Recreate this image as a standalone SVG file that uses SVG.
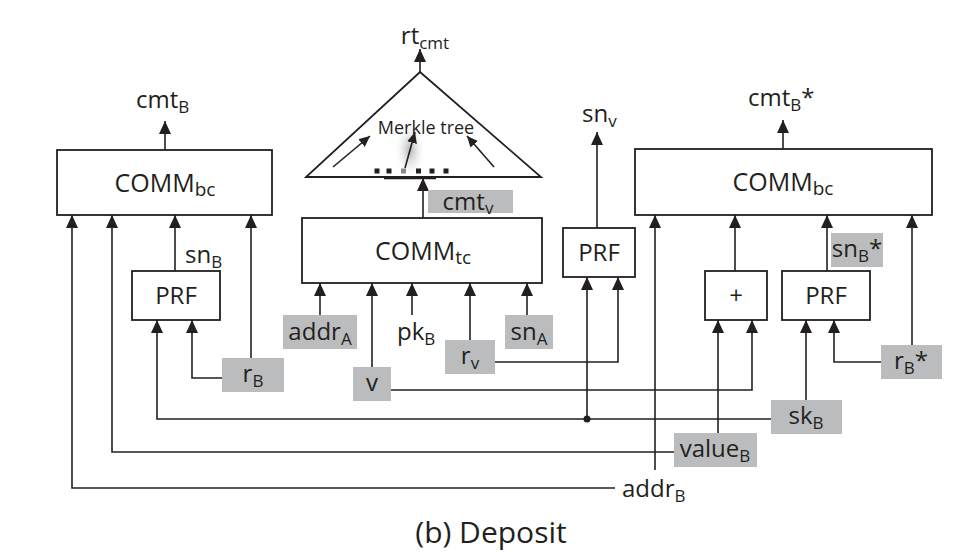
<svg xmlns="http://www.w3.org/2000/svg" width="980" height="559" viewBox="0 0 980 559">
<defs>
<marker id="ah" viewBox="0 0 13 12" refX="13" refY="6" markerWidth="13" markerHeight="12" orient="auto" markerUnits="userSpaceOnUse"><path d="M0,0 L13,6 L0,12 z" fill="#231f20"/></marker>
<marker id="ahs" viewBox="0 0 11 10" refX="11" refY="5" markerWidth="11" markerHeight="10" orient="auto" markerUnits="userSpaceOnUse"><path d="M0,0 L11,5 L0,10 z" fill="#231f20"/></marker>
<radialGradient id="glow" cx="0.5" cy="0.5" r="0.5"><stop offset="0" stop-color="#9a9a9a" stop-opacity="0.75"/><stop offset="1" stop-color="#ffffff" stop-opacity="0"/></radialGradient>
</defs>
<style>
.box{fill:#fff;stroke:#231f20;stroke-width:1.8}
.gray{fill:#bbbcbe;stroke:none}
.ln{fill:none;stroke:#231f20;stroke-width:1.6}
.arr{fill:none;stroke:#231f20;stroke-width:1.6;marker-end:url(#ah)}
.arrs{fill:none;stroke:#231f20;stroke-width:1.6;marker-end:url(#ahs)}
text{font-family:"Open Sans","Liberation Sans",sans-serif;fill:#231f20;font-size:24px}
.c{text-anchor:middle}
.big{font-size:25px}
.sub{font-size:17px}
.bsub{font-size:19px}
.mk{font-size:18px}
.ttl{font-size:30px}
</style>
<rect width="980" height="559" fill="#fff"/>

<g id="connectors">
<path class="arr" d="M165,150 V121"/>
<path class="arr" d="M615,488 H72 V215"/>
<path class="arr" d="M674,452 H112 V215"/>
<path class="arr" d="M175,272 V215"/>
<path class="arr" d="M251,358 V215"/>
<path class="arr" d="M771,419 H157 V320"/>
<path class="arr" d="M222,378 H192 V320"/>
<path class="arr" d="M423,218 V178"/>
<path class="arr" d="M320,315 V283"/>
<path class="arr" d="M372,367 V283"/>
<path class="arr" d="M412,315 V283"/>
<path class="arr" d="M470,340 V283"/>
<path class="arr" d="M527,315 V283"/>
<path class="arr" d="M420,72 V49"/>
<path class="arr" d="M495,362 H618 V277"/>
<path class="arr" d="M587,419 V277"/>
<path class="arr" d="M597,228 V132"/>
<circle cx="587" cy="419" r="3.5" fill="#231f20"/>
<path class="arr" d="M783,149 V120"/>
<path class="arr" d="M655,470 V215"/>
<path class="arr" d="M735,271 V215"/>
<path class="arr" d="M827,271 V215"/>
<path class="arr" d="M912,345 V215"/>
<path class="arr" d="M718,433 V320"/>
<path class="arr" d="M391,390 H752 V320"/>
<path class="arr" d="M806,400 V320"/>
<path class="arr" d="M881,362 H834 V320"/>
</g>

<g id="merkle">
<ellipse cx="410" cy="150" rx="16" ry="30" fill="url(#glow)"/>
<path class="box" d="M420,72 L541,177 L306,177 Z" style="fill:none"/>
<line class="ln" x1="384" y1="178.5" x2="436" y2="178.5" style="stroke-width:1.4"/>
<text class="c mk" x="426" y="134">Merkle tree</text>
<path class="arrs" d="M333,167 L370,136"/>
<path class="arrs" d="M405,168 L415,132"/>
<path class="arrs" d="M494,167 L467,136"/>
<g fill="#231f20">
<rect x="374.5" y="168.5" width="5" height="5"/>
<rect x="386.5" y="168.5" width="5" height="5"/>
<rect x="401" y="168.5" width="5" height="5" fill="#8a8a8a"/>
<rect x="416" y="168.5" width="5" height="5"/>
<rect x="429.5" y="168.5" width="5" height="5"/>
<rect x="443.5" y="168.5" width="5" height="5"/>
</g>
<text class="c" x="425" y="44">rt<tspan class="sub" dy="5">cmt</tspan></text>
</g>

<g id="comm-bc-left">
<rect class="box" x="57" y="150" width="215" height="65"/>
<text class="c big" x="165" y="192">COMM<tspan class="bsub" dy="4">bc</tspan></text>
<text x="136" y="108">cmt<tspan class="sub" dy="5">B</tspan></text>
</g>

<g id="prf-left">
<rect class="box" x="132" y="271" width="88" height="49"/>
<text class="c" x="176" y="304">PRF</text>
<text x="185" y="263">sn<tspan class="sub" dy="5">B</tspan></text>
</g>

<g id="rB">
<rect class="gray" x="222" y="358" width="62" height="34"/>
<text class="c" x="253" y="382">r<tspan class="sub" dy="5">B</tspan></text>
</g>

<g id="comm-tc">
<rect class="box" x="302" y="218" width="240" height="65"/>
<text class="c big" x="423" y="260">COMM<tspan class="bsub" dy="4">tc</tspan></text>
</g>

<g id="cmtv">
<rect class="gray" x="428" y="190" width="85" height="23"/>
<text class="c" x="468" y="210">cmt<tspan class="sub" dy="4">v</tspan></text>
</g>

<g id="addrA">
<rect class="gray" x="283" y="315" width="74" height="34"/>
<text class="c" x="320" y="340">addr<tspan class="sub" dy="5">A</tspan></text>
</g>

<g id="pkB">
<text x="397" y="340">pk<tspan class="sub" dy="5">B</tspan></text>
</g>

<g id="snA">
<rect class="gray" x="505" y="315" width="48" height="34"/>
<text class="c" x="529" y="340">sn<tspan class="sub" dy="5">A</tspan></text>
</g>

<g id="rv">
<rect class="gray" x="445" y="340" width="50" height="34"/>
<text class="c" x="470" y="364">r<tspan class="sub" dy="5">v</tspan></text>
</g>

<g id="v">
<rect class="gray" x="353" y="367" width="38" height="34"/>
<text class="c" x="372" y="391">v</text>
</g>

<g id="prf-mid">
<rect class="box" x="563" y="228" width="72" height="49"/>
<text class="c" x="599" y="261">PRF</text>
<text x="582" y="122">sn<tspan class="sub" dy="5">v</tspan></text>
</g>

<g id="comm-bc-right">
<rect class="box" x="635" y="149" width="297" height="66"/>
<text class="c big" x="783" y="191">COMM<tspan class="bsub" dy="4">bc</tspan></text>
<text x="748" y="106">cmt<tspan class="sub" dy="5">B</tspan><tspan dy="-5">*</tspan></text>
</g>

<g id="snBstar">
<rect class="gray" x="831" y="233" width="52" height="34"/>
<text class="c" x="857" y="257">sn<tspan class="sub" dy="5">B</tspan><tspan dy="-5">*</tspan></text>
</g>

<g id="plus">
<rect class="box" x="705" y="271" width="62" height="49"/>
<text class="c" x="736" y="304">+</text>
</g>

<g id="prf-right">
<rect class="box" x="782" y="271" width="88" height="49"/>
<text class="c" x="826" y="304">PRF</text>
</g>

<g id="rBstar">
<rect class="gray" x="881" y="345" width="61" height="34"/>
<text class="c" x="911" y="369">r<tspan class="sub" dy="5">B</tspan><tspan dy="-5">*</tspan></text>
</g>

<g id="skB">
<rect class="gray" x="771" y="400" width="71" height="34"/>
<text class="c" x="806" y="424">sk<tspan class="sub" dy="5">B</tspan></text>
</g>

<g id="valueB">
<rect class="gray" x="674" y="433" width="83" height="34"/>
<text class="c" x="715" y="457">value<tspan class="sub" dy="5">B</tspan></text>
</g>

<g id="addrB">
<text x="622" y="497">addr<tspan class="sub" dy="5">B</tspan></text>
</g>

<text class="c ttl" x="491" y="543">(b) Deposit</text>
</svg>
